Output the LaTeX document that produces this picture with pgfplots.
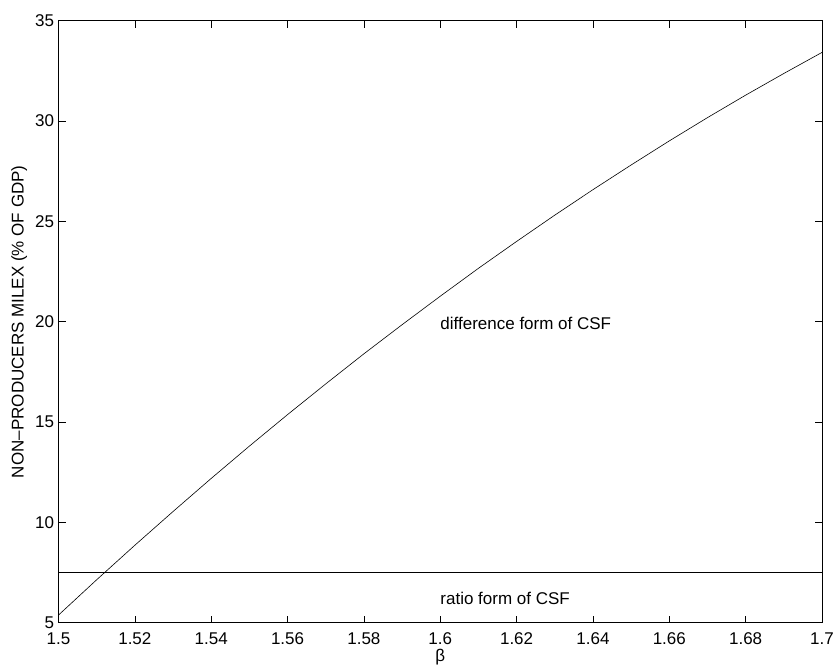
\documentclass[border=0pt]{standalone}
\usepackage{fontspec}
\setmainfont{Liberation Sans}
\usepackage{pgfplots}
\pgfplotsset{compat=1.18}
\begin{document}
\begin{tikzpicture}[x=1pt,y=1pt]
\useasboundingbox (-58.5,-46.3) rectangle (778.5,622.7);
\begin{axis}[
  at={(0,0)}, anchor=south west,
  scale only axis,
  width=763.5pt, height=602pt,
  xmin=1.5, xmax=1.7, ymin=5, ymax=35,
  xtick={1.5,1.52,1.54,1.56,1.58,1.6,1.62,1.64,1.66,1.68,1.7},
  xticklabels={1.5,1.52,1.54,1.56,1.58,1.6,1.62,1.64,1.66,1.68,1.7},
  ytick={5,10,15,20,25,30,35},
  yticklabels={5,10,15,20,25,30,35},
  tick align=inside,
  major tick length=7pt,
  tick style={black, line width=0.7pt},
  axis line style={black, line width=0.9pt},
  xticklabel style={font=\fontsize{17}{19}\selectfont, yshift=-6.5pt},
  yticklabel style={font=\fontsize{17}{19}\selectfont, xshift=-1pt},
  xlabel={β},
  ylabel={NON–PRODUCERS MILEX (\% OF GDP)},
  label style={font=\fontsize{17}{19}\selectfont},
  xlabel style={yshift=2.5pt},
  ylabel style={yshift=1pt},
  clip=true,
]
\addplot[black, line width=0.6pt] coordinates {
(1.50,5.38) (1.51,7.14) (1.52,8.86) (1.53,10.54) (1.54,12.19)
(1.55,13.80) (1.56,15.37) (1.57,16.90) (1.58,18.40) (1.59,19.85)
(1.60,21.27) (1.61,22.66) (1.62,24.00) (1.63,25.31) (1.64,26.58)
(1.65,27.81) (1.66,29.01) (1.67,30.17) (1.68,31.29) (1.69,32.37)
(1.70,33.42)
};
\addplot[black, line width=0.6pt] coordinates {(1.5,7.5) (1.7,7.5)};
\node[anchor=west, font=\fontsize{17}{19}\selectfont, inner sep=0pt] at (axis cs:1.6,19.93) {difference form of CSF};
\node[anchor=west, font=\fontsize{17}{19}\selectfont, inner sep=0pt] at (axis cs:1.6,6.2) {ratio form of CSF};
\end{axis}
\end{tikzpicture}
\end{document}
